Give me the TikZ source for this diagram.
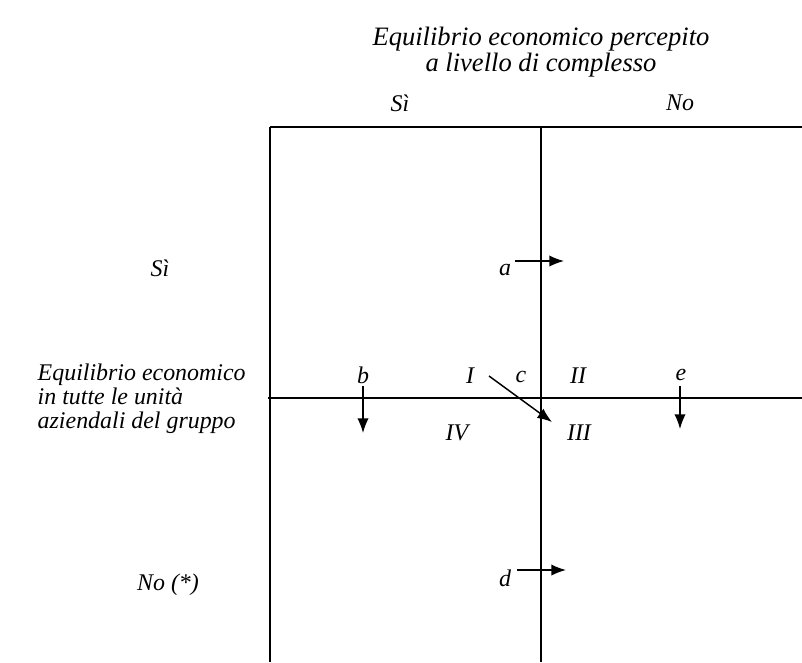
\documentclass[tikz,border=0pt]{standalone}
\usepackage{fontspec}
\setmainfont{Liberation Serif}
\usepackage{tikz}
\usetikzlibrary{arrows.meta}
\tikzset{>={Latex[length=11pt, width=8.5pt]}}

\begin{document}
\begin{tikzpicture}[x=0.02646cm, y=-0.02646cm, line width=1.1pt,
    font=\fontsize{18}{18}\selectfont\itshape]

  \tikzset{lbl/.style={inner sep=0pt, anchor=center},
           head/.style={align=center, font=\fontsize{20}{18}\selectfont\itshape},
           side/.style={align=left, anchor=west, inner sep=0pt},
           move/.style={->, line width=1.1pt}}

  \useasboundingbox (0,0) rectangle (802,662);

  % headings
  \node[head] (title) at (541,52) {Equilibrio economico percepito\\a livello di complesso};
  \node[lbl] (colSi) at (400,103) {Sì};
  \node[lbl] (colNo) at (680,103) {No};
  \node[lbl] (rowSi) at (160,268) {Sì};
  \node[side] (rowTxt) at (37,399) {Equilibrio economico\\in tutte le unità\\aziendali del gruppo};
  \node[lbl] (rowNo) at (168,585) {No (*)};

  % the grid
  \coordinate (tl) at (270,127);
  \coordinate (tr) at (802,127);
  \coordinate (tm) at (541,127);
  \coordinate (ml) at (268,398);
  \coordinate (mr) at (802,398);
  \coordinate (bl) at (270,662);
  \coordinate (bm) at (541,662);
  \draw (tl) -- (tr);
  \draw (ml) -- (mr);
  \draw (tl) -- (bl);
  \draw (tm) -- (bm);

  % quadrants
  \node[lbl] (qI) at (470,376) {I};
  \node[lbl] (qII) at (578,376) {II};
  \node[lbl] (qIII) at (579,433) {III};
  \node[lbl] (qIV) at (457,433) {IV};

  % movements between quadrants
  \foreach \n/\x/\y in {a/505/270, b/363/375, c/521/377, d/505/578, e/681/375} {
    \node[lbl] (m\n) at (\x,\y) {\n};
  }
  \coordinate (aS) at (515,261);  \coordinate (aE) at (564,261);
  \coordinate (bS) at (363,386);  \coordinate (bE) at (363,433);
  \coordinate (cS) at (489,376);  \coordinate (cE) at (552,422);
  \coordinate (dS) at (517,570);  \coordinate (dE) at (566,570);
  \coordinate (eS) at (680,386);  \coordinate (eE) at (680,429);
  \foreach \n in {a,b,c,d,e}
    \draw[move] (\n S) -- (\n E);

\end{tikzpicture}
\end{document}
